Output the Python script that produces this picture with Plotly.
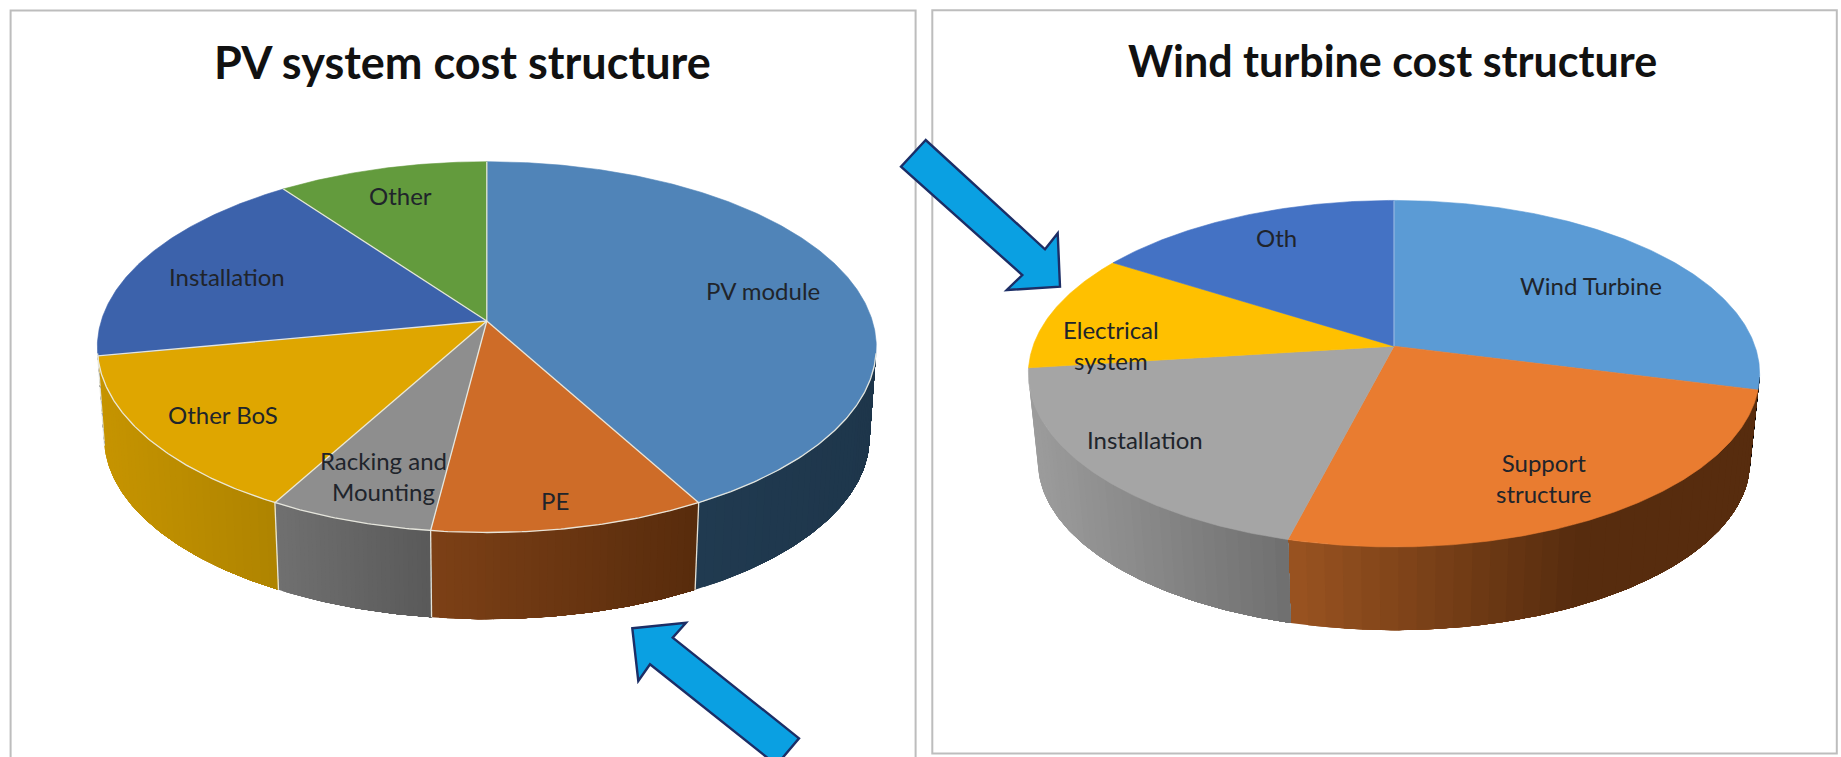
import math
import plotly.graph_objects as go

W, H = 1841, 757

# ---- data ----
pv_title = "PV system cost structure"
pv_labels = ["PV module", "PE", "Racking and<br>Mounting", "Other BoS", "Installation", "Other"]
pv_values = [42, 10, 6, 14, 18, 10]
wind_title = "Wind turbine cost structure"
wind_labels = ["Wind Turbine", "Support<br>structure", "Installation", "Electrical<br>system", "Oth"]
wind_values = [29, 25, 19, 11, 16]

# ---- styles ----
pv_top = ["#5084B8", "#CE6C28", "#8E8E8E", "#DFA600", "#3C62AB", "#639B3D"]
pv_side_left = ["#203A50", "#7C4016", "#707070", "#C69400", "#000000", "#000000"]
pv_side_right = ["#1E364B", "#572B0C", "#595959", "#AE8300", "#000000", "#000000"]
pv_side_span = [1, 1, 1, 1, 1, 1]
wind_top = ["#5B9BD5", "#E97C30", "#A5A5A5", "#FFC000", "#4472C4"]
wind_side_left = ["#000000", "#985220", "#9C9C9C", "#000000", "#000000"]
wind_side_right = ["#000000", "#572C0E", "#6E6E6E", "#000000", "#000000"]
wind_side_span = [1, 0.6, 1, 1, 1]

pv_geo = dict(cx=486.8, cy=321.0, A=181.7, B=385.6, k=0.1408, s=0.983, depth=90.3,
              edge="rgba(235,235,225,0.95)", edge_w=1.3)
wind_geo = dict(cx=1394.0, cy=346.2, A=168.9, B=361.0, k=0.1587, s=0.974, depth=88.4,
                edge=None, edge_w=0)
pv_text = [(763, 290), (555, 500), (383, 476), (223, 414), (227, 276), (400, 195)]
wind_text = [(1591, 285), (1543, 478), (1145, 439), (1111, 345), (1276, 237)]
SIDE_FROM, SIDE_TO = 100.0, 260.0
STRIPS = 36
TEXT_FONT = "Lato"
TEXT_COLOR = "#20242B"


def project(theta, g, lower=False):
    u, v = math.sin(math.radians(theta)), math.cos(math.radians(theta))
    d = 1 + g["k"] * v
    x, y = g["B"] * u / d, -g["A"] * v / d
    if lower:
        return g["cx"] + g["s"] * x, g["cy"] + g["s"] * y + g["depth"]
    return g["cx"] + x, g["cy"] + y


def arc(t0, t1, g, lower=False):
    n = max(2, int(abs(t1 - t0) * 2) + 1)
    pts = [project(t0 + (t1 - t0) * i / (n - 1), g, lower) for i in range(n)]
    return [p[0] for p in pts], [p[1] for p in pts]


def mix(c0, c1, f):
    a = [int(c0[i:i + 2], 16) for i in (1, 3, 5)]
    b = [int(c1[i:i + 2], 16) for i in (1, 3, 5)]
    return "rgb(%d,%d,%d)" % tuple(round(a[i] + (b[i] - a[i]) * f) for i in range(3))


def poly(fig, xs, ys, color, lw=0.0):
    fig.add_trace(go.Scatter(x=xs, y=ys, mode="lines", fill="toself", fillcolor=color,
                             line=dict(color=color, width=lw), hoverinfo="skip",
                             showlegend=False))


def stroke(fig, xs, ys, color, width):
    fig.add_trace(go.Scatter(x=xs, y=ys, mode="lines", line=dict(color=color, width=width),
                             hoverinfo="skip", showlegend=False))


def draw_pie(fig, values, top, left, right, span, g):
    total = sum(values)
    bounds = [0.0]
    for v in values:
        bounds.append(bounds[-1] + 360.0 * v / total)
    # side wall: strips overlap the next one, each is painted over the previous,
    # so that no background shows through the seams
    for i in range(len(values)):
        a, b = max(bounds[i], SIDE_FROM), min(bounds[i + 1], SIDE_TO)
        if a >= b:
            continue
        xa, xb = project(a, g)[0], project(b, g)[0]
        hi, lo = (a, b) if xa < xb else (b, a)   # hi = angle at the left end of the slice
        xl, xr = project(hi, g)[0], project(lo, g)[0]
        for j in range(STRIPS):
            # paint from the left end of the slice to the right end
            t0 = hi + (lo - hi) * j / STRIPS
            ux, uy = arc(t0, lo, g)
            lx, ly = arc(lo, t0, g, lower=True)
            xm = project(t0, g)[0]
            f = min(1.0, (xm - xl) / ((xr - xl) * span[i]))
            poly(fig, ux + lx + [ux[0]], uy + ly + [uy[0]], mix(left[i], right[i], f))
    # top face
    for i in range(len(values)):
        ax, ay = arc(bounds[i], bounds[i + 1], g)
        poly(fig, [g["cx"]] + ax + [g["cx"]], [g["cy"]] + ay + [g["cy"]], top[i], 0.6)
    # thin light edges
    if g["edge"]:
        for b in bounds[:-1]:
            px, py = project(b, g)
            stroke(fig, [g["cx"], px], [g["cy"], py], g["edge"], g["edge_w"])
            if SIDE_FROM <= b <= SIDE_TO:
                qx, qy = project(b, g, lower=True)
                stroke(fig, [px, qx], [py, qy], g["edge"], g["edge_w"])
        ex, ey = arc(SIDE_FROM, SIDE_TO, g)
        stroke(fig, ex, ey, g["edge"], g["edge_w"])
    else:
        px, py = project(bounds[0], g)
        stroke(fig, [g["cx"], px], [g["cy"], py], "rgba(190,215,240,0.8)", 1)


fig = go.Figure()
draw_pie(fig, pv_values, pv_top, pv_side_left, pv_side_right, pv_side_span, pv_geo)
draw_pie(fig, wind_values, wind_top, wind_side_left, wind_side_right, wind_side_span, wind_geo)

for lab, (x, y) in list(zip(pv_labels, pv_text)) + list(zip(wind_labels, wind_text)):
    fig.add_annotation(x=x, y=y, text=lab, showarrow=False, xanchor="center", yanchor="middle",
                       font=dict(family=TEXT_FONT, size=24, color=TEXT_COLOR), align="center")
for txt, x, y, size in [(pv_title, 462, 62, 45), (wind_title, 1392, 60, 43)]:
    fig.add_annotation(x=x, y=y, text="<b>%s</b>" % txt, showarrow=False, xanchor="center",
                       yanchor="middle", font=dict(family=TEXT_FONT, size=size, color="#111111"))


def path(points):
    return "M " + " L ".join("%g,%g" % p for p in points) + " Z"


frame = dict(type="rect", xref="x", yref="y", line=dict(color="#BDBDBD", width=2),
             fillcolor="rgba(0,0,0,0)", layer="below")
arrow_fill = "#0AA0E2"
arrow_line = dict(color="#1C2E66", width=2.4)
arrow_a = [(632.3, 628.3), (686, 622.7), (672.7, 637.7), (799, 738.3), (776.5, 765),
           (650, 664.3), (638.3, 681)]
arrow_b = [(925.7, 140), (901, 166.7), (1022.3, 275), (1006.7, 290), (1060, 286.7),
           (1057.7, 233.3), (1045, 249.3)]
fig.update_layout(
    width=W, height=H, margin=dict(l=0, r=0, t=0, b=0), autosize=False,
    paper_bgcolor="white", plot_bgcolor="white", showlegend=False,
    xaxis=dict(range=[0, W], visible=False, fixedrange=True),
    yaxis=dict(range=[H, 0], visible=False, fixedrange=True),
    shapes=[
        dict(frame, x0=10.6, x1=915.6, y0=10.6, y1=790),
        dict(frame, x0=932.3, x1=1836.8, y0=10.2, y1=753.4),
        dict(type="path", path=path(arrow_a), fillcolor=arrow_fill, line=arrow_line, layer="above"),
        dict(type="path", path=path(arrow_b), fillcolor=arrow_fill, line=arrow_line, layer="above"),
    ],
)
fig.write_html("out.html", config={"displayModeBar": False},
               post_script="document.body.style.margin='0';document.body.style.overflow='hidden';")
